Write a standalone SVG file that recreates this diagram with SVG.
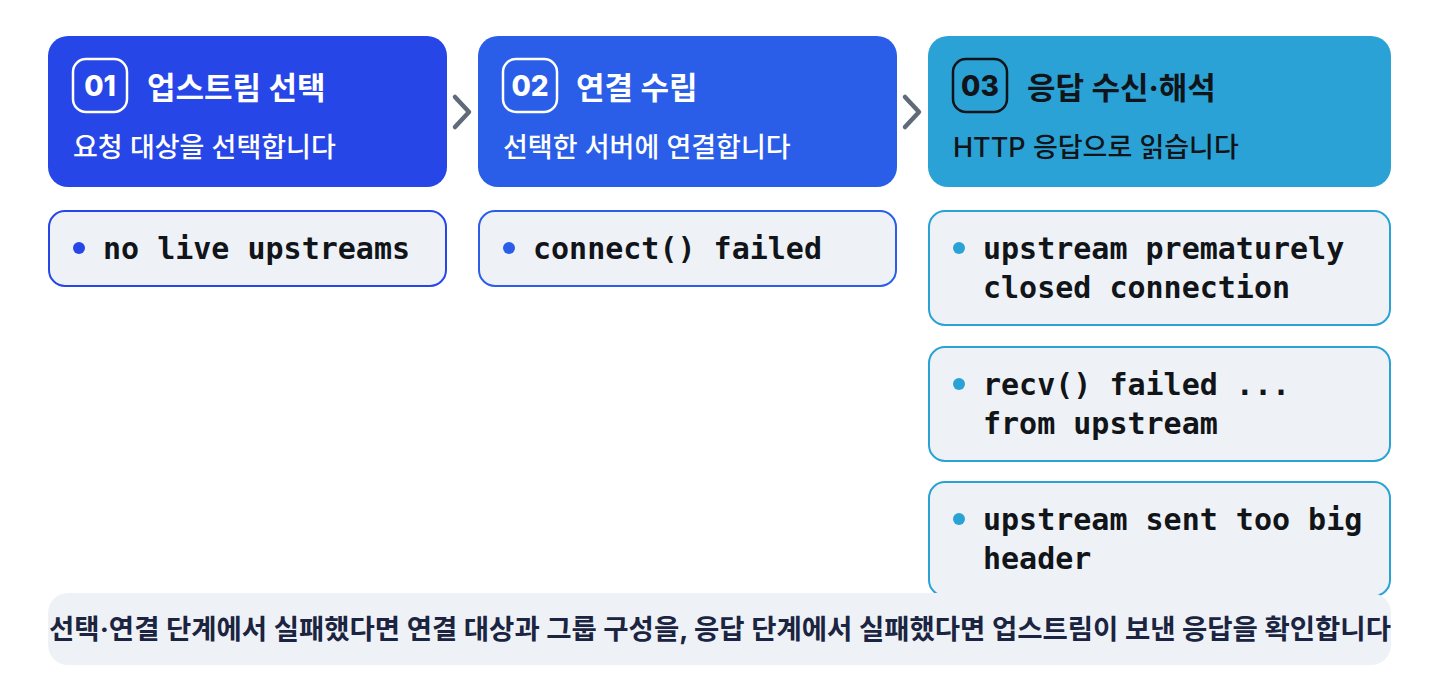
<svg xmlns="http://www.w3.org/2000/svg" width="1440" height="700" viewBox="0 0 1440 700">
<style>
.head{stroke:none}
.badge{fill:none;stroke-width:2.5}
.num{font-family:Inter,"Noto Sans CJK KR",sans-serif;font-weight:800;font-size:28px;text-anchor:middle}
.title{font-family:Inter,"Noto Sans CJK KR",sans-serif;font-weight:700;font-size:31px}
.sub{font-family:Inter,"Noto Sans CJK KR",sans-serif;font-weight:500;font-size:27px}
.item{fill:#EEF2F6;stroke-width:2}
.code{font-family:"DejaVu Sans Mono",monospace;font-weight:700;font-size:30px;fill:#111418}
.chev{fill:none;stroke:#5F6B78;stroke-width:4.5;stroke-linecap:round;stroke-linejoin:round}
.foot{font-family:Inter,"Noto Sans CJK KR",sans-serif;font-weight:700;font-size:27.5px;fill:#1B2440;text-anchor:middle}
</style>
<rect width="1440" height="700" fill="#FFFFFF"/>
<g id="step1">
<rect class="head" x="48" y="36" width="399" height="151" rx="20" fill="#2746E8"/>
<rect class="badge" x="73" y="59" width="54" height="53" rx="13" stroke="#FFFFFF"/>
<text class="num" x="100" y="96" fill="#FFFFFF">01</text>
<text class="title" x="147" y="99" fill="#FFFFFF">업스트림 선택</text>
<text class="sub" x="73" y="157" fill="#FFFFFF">요청 대상을 선택합니다</text>
</g>
<g id="step2">
<rect class="head" x="478" y="36" width="419" height="151" rx="20" fill="#2A5EE9"/>
<rect class="badge" x="503" y="59" width="54" height="53" rx="13" stroke="#FFFFFF"/>
<text class="num" x="530" y="96" fill="#FFFFFF">02</text>
<text class="title" x="576" y="99" fill="#FFFFFF">연결 수립</text>
<text class="sub" x="503" y="157" fill="#FFFFFF">선택한 서버에 연결합니다</text>
</g>
<g id="step3">
<rect class="head" x="928" y="36" width="463" height="151" rx="20" fill="#2AA2D5"/>
<rect class="badge" x="953" y="59" width="54" height="53" rx="13" stroke="#111418"/>
<text class="num" x="980" y="96" fill="#111418">03</text>
<text class="title" x="1027" y="99" fill="#111418">응답 수신·해석</text>
<text class="sub" x="953" y="157" fill="#111418">HTTP 응답으로 읽습니다</text>
</g>
<g id="connectors">
<polyline class="chev" points="455,97 469,112 455,127"/>
<polyline class="chev" points="905,97 919,112 905,127"/>
</g>
<g id="item1">
<rect class="item" x="49" y="211" width="397" height="75" rx="16" stroke="#2746E8"/>
<circle cx="79" cy="248" r="6" fill="#2746E8"/>
<text class="code" x="103" y="259">no live upstreams</text>
</g>
<g id="item2">
<rect class="item" x="479" y="211" width="417" height="75" rx="16" stroke="#2A5EE9"/>
<circle cx="509" cy="248" r="6" fill="#2A5EE9"/>
<text class="code" x="533" y="259">connect() failed</text>
</g>
<g id="item3">
<rect class="item" x="929" y="211" width="461" height="114" rx="16" stroke="#2AA2D5"/>
<circle cx="959" cy="248" r="6" fill="#2AA2D5"/>
<text class="code" x="983" y="259">upstream prematurely</text>
<text class="code" x="983" y="298">closed connection</text>
</g>
<g id="item4">
<rect class="item" x="929" y="347" width="461" height="114" rx="16" stroke="#2AA2D5"/>
<circle cx="959" cy="384" r="6" fill="#2AA2D5"/>
<text class="code" x="983" y="395">recv() failed ...</text>
<text class="code" x="983" y="434">from upstream</text>
</g>
<g id="item5">
<rect class="item" x="929" y="482" width="461" height="114" rx="16" stroke="#2AA2D5"/>
<circle cx="959" cy="519" r="6" fill="#2AA2D5"/>
<text class="code" x="983" y="530">upstream sent too big</text>
<text class="code" x="983" y="569">header</text>
</g>
<g id="footer">
<rect x="48" y="593" width="1343" height="72" rx="20" fill="#EEF2F6"/>
<text class="foot" x="720" y="639">선택·연결 단계에서 실패했다면 연결 대상과 그룹 구성을, 응답 단계에서 실패했다면 업스트림이 보낸 응답을 확인합니다</text>
</g>
</svg>
